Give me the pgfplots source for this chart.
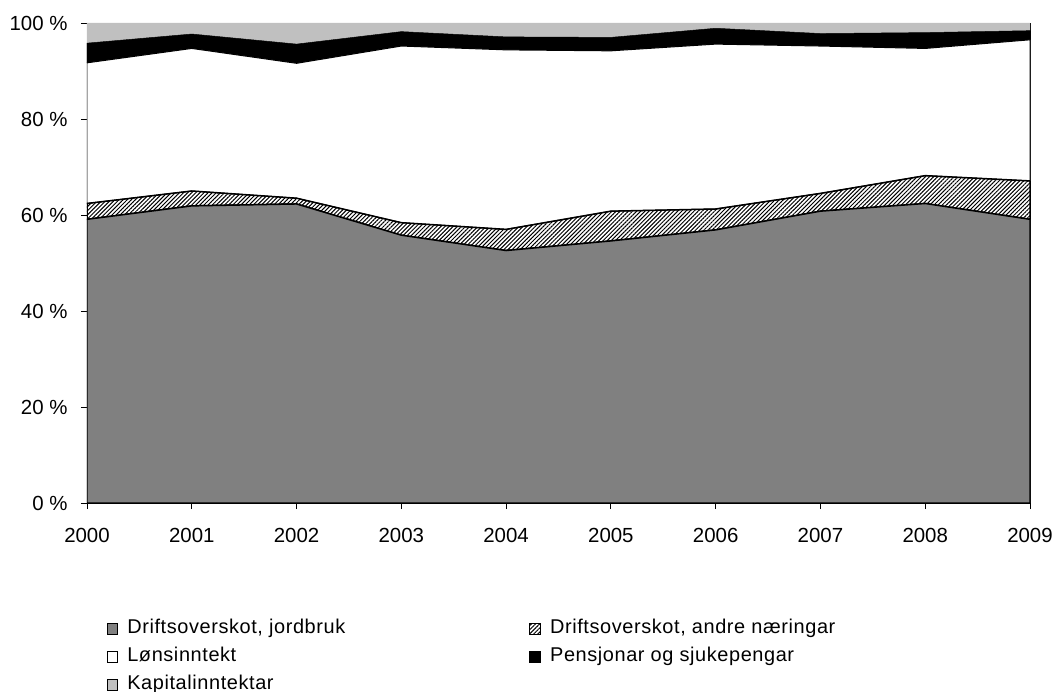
\documentclass[border=0pt]{standalone}
\usepackage{pgfplots}
\pgfplotsset{compat=1.18}
\usepackage{fontspec}
\setmainfont{Liberation Sans}
\usetikzlibrary{patterns.meta}
\definecolor{jord}{HTML}{808080}
\definecolor{kap}{HTML}{C0C0C0}
\pgfplotsset{sqlegend/.style={legend image code/.code={\draw[##1,draw=black,line width=0.8bp] (0bp,-5.75bp) rectangle (10.5bp,5.75bp);}}}
\begin{document}
\begin{tikzpicture}
\path[use as bounding box] (-87bp,-189bp) rectangle (972bp,503bp);
\begin{axis}[
  at={(0,0)}, anchor=south west,
  scale only axis, width=943bp, height=480bp,
  xmin=0, xmax=9, ymin=0, ymax=100,
  stack plots=y,
  xtick={0,1,2,3,4,5,6,7,8,9},
  xticklabels={2000,2001,2002,2003,2004,2005,2006,2007,2008,2009},
  ytick={0,20,40,60,80,100},
  yticklabels={0 \%,20 \%,40 \%,60 \%,80 \%,100 \%},
  tick align=outside, tick pos=left, major tick length=6bp,
  axis line style={line width=0.8bp},
  tick style={black, line width=0.8bp},
  tick label style={font=\fontsize{20.5}{24}\selectfont},
  xticklabel style={yshift=-15.5bp},
  yticklabel style={xshift=-10bp},
  legend columns=2,
  legend cell align=left,
  legend style={draw=none, fill=none, inner sep=0pt, outer sep=0pt,
    at={(0.0207,-0.2417)}, anchor=north west,
    font=\fontsize{20}{24}\selectfont\addfontfeatures{LetterSpace=3},
    nodes={inner sep=1bp, text height=13bp, text depth=5bp},
    row sep=8bp,
    /tikz/every odd column/.append style={column sep=8.5bp},
    /tikz/every even column/.append style={column sep=183bp}},
]
\addplot[fill=jord, draw=black, line width=1.5bp, sqlegend]
  coordinates {(0,59.1) (1,61.9) (2,62.3) (3,55.8) (4,52.6) (5,54.6) (6,56.9) (7,60.8) (8,62.4) (9,59.1)} \closedcycle;
\addlegendentry{Driftsoverskot, jordbruk}
\addplot[pattern={Lines[angle=45,distance=2.9bp,line width=1bp]}, draw=black, line width=1.5bp, sqlegend]
  coordinates {(0,3.3) (1,3.1) (2,1.2) (3,2.6) (4,4.4) (5,6.2) (6,4.35) (7,3.7) (8,5.8) (9,8.0)} \closedcycle;
\addlegendentry{Driftsoverskot, andre næringar}
\addplot[fill=white, draw=black, line width=1bp, sqlegend]
  coordinates {(0,29.3) (1,29.7) (2,28.1) (3,36.8) (4,37.4) (5,33.4) (6,34.35) (7,30.7) (8,26.5) (9,29.4)} \closedcycle;
\addlegendentry{Lønsinntekt}
\addplot[fill=black, draw=black, line width=0.5bp, sqlegend]
  coordinates {(0,4.1) (1,3.0) (2,4.0) (3,3.0) (4,2.7) (5,2.8) (6,3.3) (7,2.6) (8,3.3) (9,1.9)} \closedcycle;
\addlegendentry{Pensjonar og sjukepengar}
\addplot[fill=kap, draw=none, sqlegend]
  coordinates {(0,4.2) (1,2.3) (2,4.4) (3,1.8) (4,2.9) (5,3.0) (6,1.1) (7,2.2) (8,2.0) (9,1.6)} \closedcycle;
\addlegendentry{Kapitalinntektar}
\end{axis}
\end{tikzpicture}
\end{document}
